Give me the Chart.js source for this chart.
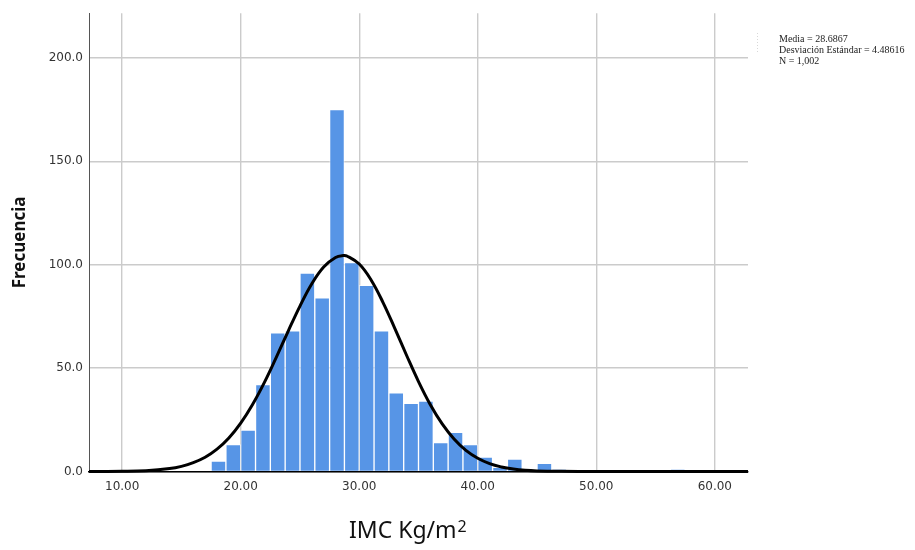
<!DOCTYPE html>
<html>
<head>
<meta charset="utf-8">
<script src="https://cdn.jsdelivr.net/npm/chart.js@4.4.1/dist/chart.umd.min.js"></script>
<style>
  html, body { margin: 0; padding: 0; background: #fff; }
</style>
</head>
<body>
<canvas id="histChart" width="915" height="550"></canvas>
<script>
// histogram bins (width 1.25, centres) and counts
const binCenters = [18.125, 19.375, 20.625, 21.875, 23.125, 24.375, 25.625, 26.875,
    28.125, 29.375, 30.625, 31.875, 33.125, 34.375, 35.625, 36.875,
    38.125, 39.375, 40.625, 41.875, 43.125, 44.375, 45.625, 46.875,
    48.125, 49.375, 50.625, 51.875, 53.125, 54.375, 55.625, 56.875];
const binCounts = [5, 13, 20, 42, 67, 68, 96, 84,
    175, 101, 90, 68, 38, 33, 34, 14,
    19, 13, 7, 2, 6, 0, 4, 1,
    0, 0, 0, 0, 0, 0, 0, 1];

// normal curve, points
const curveX = [7.2, 10, 12, 14, 15, 16, 17, 18, 19, 20, 21, 22, 23, 24, 25, 26, 27, 28, 28.65,
    29, 30, 31, 32, 33, 34, 35, 36, 37, 38, 39, 40, 41, 42, 43, 44, 45, 47, 50, 55, 62.8];
const curveY = [0, 0.1, 0.4, 1.4, 2.5, 4.3, 6.9, 10.8, 16.2, 23.4, 32.4, 43.1, 55.2, 67.8, 80, 90.8, 98.9, 103.5, 104.4,
    104.1, 100.3, 92.6, 81.8, 69.2, 56.1, 43.5, 32.3, 23, 15.7, 10.2, 6.4, 3.8, 2.2, 1.2, 0.6, 0.3, 0.1, 0, 0, 0];

const xTicks = [10, 20, 30, 40, 50, 60];
const yTicks = [0, 50, 100, 150, 200];
const xTitle = 'IMC Kg/m';
const xTitleSup = '2';
const statLines = ['Media = 28.6867', 'Desviación Estándar = 4.48616', 'N = 1,002'];

const extraText = {
    id: 'extraText',
    afterDraw(chart) {
        const ctx = chart.ctx;
        ctx.save();
        // axis title with superscript
        ctx.fillStyle = '#111';
        ctx.textBaseline = 'alphabetic';
        ctx.font = '23px "Noto Sans"';
        ctx.fillText(xTitle, 349, 538);
        const w = ctx.measureText(xTitle).width;
        ctx.font = '16px "Noto Sans"';
        ctx.fillText(xTitleSup, 349 + w + 1, 532);

        // stats box
        ctx.strokeStyle = '#d8d8d8';
        ctx.setLineDash([1, 2]);
        ctx.beginPath();
        ctx.moveTo(757.5, 33);
        ctx.lineTo(757.5, 52);
        ctx.stroke();
        ctx.setLineDash([]);
        ctx.fillStyle = '#222';
        ctx.font = '10px "Liberation Serif"';
        statLines.forEach((t, i) => ctx.fillText(t, 779, 42 + i * 10.8));
        ctx.restore();
    }
};

new Chart(document.getElementById('histChart'), {
    type: 'bar',
    data: {
        datasets: [
            {
                type: 'line',
                data: curveX.map((x, i) => ({ x, y: curveY[i] })),
                borderColor: '#000',
                borderWidth: 3,
                pointRadius: 0,
                tension: 0.4,
                clip: false,
                order: 0
            },
            {
                type: 'bar',
                data: binCenters.map((x, i) => ({ x, y: binCounts[i] })),
                backgroundColor: '#5795e6',
                borderColor: 'rgba(255,255,255,0.55)',
                borderWidth: 1,
                barPercentage: 1,
                categoryPercentage: 1,
                order: 1
            }
        ]
    },
    options: {
        responsive: false,
        animation: false,
        layout: { padding: { left: 0, right: 167, top: 10, bottom: 0 } },
        plugins: { legend: { display: false }, tooltip: { enabled: false } },
        scales: {
            x: {
                type: 'linear',
                min: 7.2,
                max: 62.8,
                offset: false,
                afterBuildTicks: s => { s.ticks = xTicks.map(v => ({ value: v })); },
                afterFit: s => { s.height = 78.5; },
                ticks: {
                    callback: v => v.toFixed(2),
                    color: '#333',
                    font: { family: 'DejaVu Sans', size: 12 },
                    padding: 8,
                    maxRotation: 0
                },
                grid: { color: '#cbcbcb', lineWidth: 1.4, drawTicks: false, offset: false },
                border: { color: '#000', width: 1.5 }
            },
            y: {
                min: 0,
                max: 221.6,
                afterBuildTicks: s => { s.ticks = yTicks.map(v => ({ value: v })); },
                afterFit: s => { s.width = 89; },
                ticks: {
                    callback: v => v.toFixed(1),
                    color: '#333',
                    font: { family: 'DejaVu Sans', size: 12 },
                    padding: 6
                },
                grid: { color: '#cbcbcb', lineWidth: 1.4, drawTicks: false },
                border: { color: '#555', width: 1 },
                title: {
                    display: true,
                    text: 'Frecuencia',
                    color: '#111',
                    font: { family: 'Noto Sans', size: 17, weight: 'bold' },
                    padding: { top: 10, bottom: 0 }
                }
            }
        }
    },
    plugins: [extraText]
});
</script>
</body>
</html>
